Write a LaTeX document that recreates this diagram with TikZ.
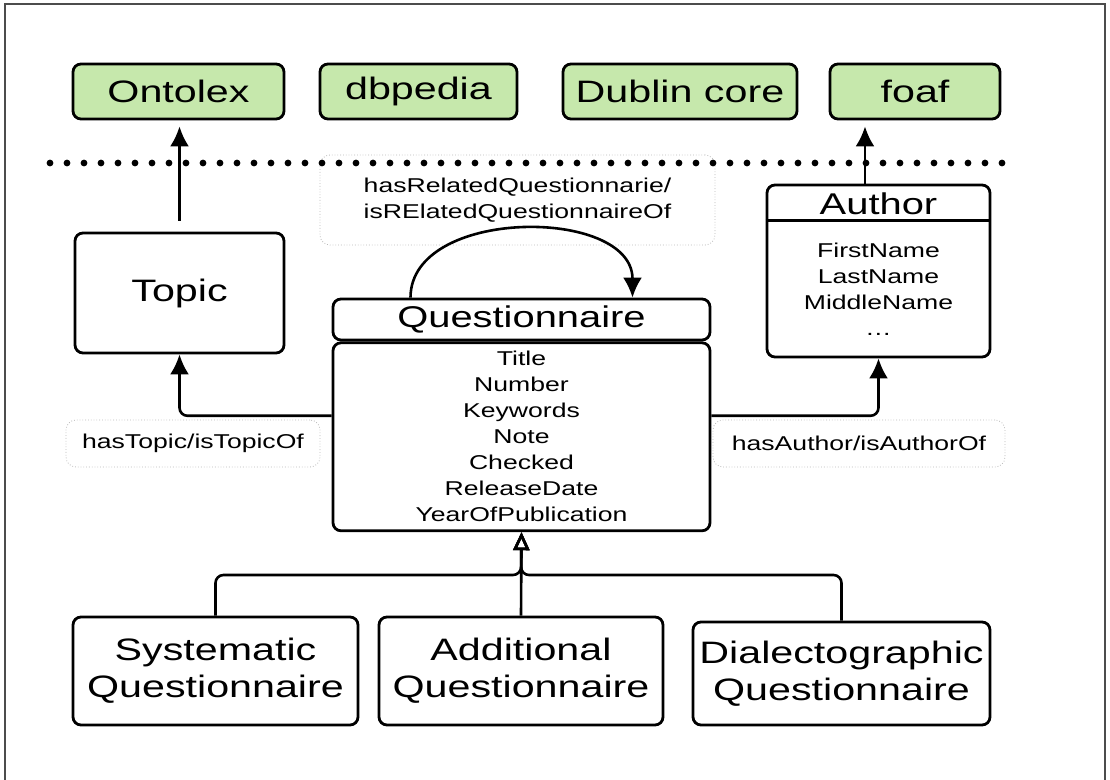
\documentclass[tikz,border=0pt]{standalone}
\usepackage{fontspec}
\setmainfont{Liberation Sans}[FakeStretch=1.33]
\usetikzlibrary{positioning,arrows.meta}
\definecolor{vocabgreen}{RGB}{198,232,172}
\definecolor{labelgray}{RGB}{185,185,185}
\tikzset{block/.style={draw,line width=1.4pt,rounded corners=4pt,align=center,inner sep=0pt},
         vocab/.style={block,fill=vocabgreen,minimum height=27.5pt,font=\fontsize{15.5}{19}\selectfont},
         relname/.style={draw=labelgray,densely dotted,rounded corners=5pt,align=center,inner sep=0pt,font=\fontsize{10}{13}\selectfont},
         line/.style={-{Latex[length=10pt,width=9.5pt]},line width=1.3pt},
         inherit/.style={-{Triangle[open,length=9pt,width=8pt]},line width=1.3pt,rounded corners=4pt}
}

\begin{document}
\begin{tikzpicture}[x=0.5pt,y=-0.5pt]
  \useasboundingbox (0,0) rectangle (1110,780);
  \draw[gray!60!black,line width=0.6pt] (5,780) -- (5,4) -- (1105,4) -- (1105,780);

  % vocabularies
  \node[vocab,minimum width=105.5pt] (onto) at (178.5,91.5) {Ontolex};
  \node[vocab,minimum width=98.5pt] (dbp) at (418.5,91.5) {dbpedia};
  \node[vocab,minimum width=117pt] (dc) at (680,91.5) {Dublin core};
  \node[vocab,minimum width=85pt] (foaf) at (915,91.5) {foaf};

  \coordinate (sepl) at (50,163);
  \coordinate (sepr) at (1010,163);

  % relation names
  \node[relname,minimum width=197.5pt,minimum height=45pt] (rellabel) at (517.5,200) {hasRelatedQuestionnarie/\\isRElatedQuestionnaireOf};
  \node[relname,minimum width=127pt,minimum height=23.5pt] (topiclabel) at (193,443.5) {hasTopic/isTopicOf};
  \node[relname,minimum width=146pt,minimum height=23.5pt] (authorlabel) at (859,443.5) {hasAuthor/isAuthorOf};

  \draw[line width=3.4pt,dash pattern=on 0pt off 8.5pt,line cap=round] (sepl) -- (sepr);

  % classes
  \node[block,minimum width=104.5pt,minimum height=60pt,font=\fontsize{15.5}{19}\selectfont] (topic) at (179.5,293) {Topic};
  \node[block,minimum width=188.5pt,minimum height=20.5pt,font=\fontsize{15}{18}\selectfont] (quest) at (521.5,319.5) {Questionnaire};
  \node[block,minimum width=188.5pt,minimum height=94pt,below=0pt of quest,font=\fontsize{10}{13}\selectfont] (questattr) {Title\\Number\\Keywords\\Note\\Checked\\ReleaseDate\\YearOfPublication};

  \node[block,minimum width=111.5pt,minimum height=86pt] (author) at (878.5,271) {};
  \node[font=\fontsize{15}{18}\selectfont] (authorname) at (878.5,203.5) {Author};
  \node[font=\fontsize{10}{13}\selectfont,align=center] (authorattr) at (878.5,289.5) {FirstName\\LastName\\MiddleName\\\dots};
  \draw[line width=1.4pt] ([yshift=-18.5pt]author.north west) -- ([yshift=-18.5pt]author.north east);

  \node[block,minimum width=142.5pt,minimum height=54pt,font=\fontsize{15.5}{18.5}\selectfont] (sys) at (215.5,671) {Systematic\\Questionnaire};
  \node[block,minimum width=142pt,minimum height=54pt,font=\fontsize{15.5}{18.5}\selectfont] (add) at (521,671) {Additional\\Questionnaire};
  \node[block,minimum width=148.5pt,minimum height=51.5pt,font=\fontsize{15.5}{18.5}\selectfont] (dia) at (841.5,673.5) {Dialectographic\\Questionnaire};

  % links
  \draw[line,shorten <=5.5pt,shorten >=3pt] (topic.north) -- (topic.north |- onto.south);
  \draw[line,shorten >=3pt] ([xshift=-6.75pt]author.north) -- ([xshift=-6.75pt]author.north |- foaf.south);
  \draw[line] ([xshift=-55.5pt]quest.north) to[out=90,in=90,looseness=1.05] ([xshift=55.5pt]quest.north);
  \draw[line,rounded corners=4pt] ([yshift=10.5pt]questattr.west) -| (topic.south);
  \draw[line,rounded corners=4pt] ([yshift=10.5pt]questattr.east) -| (author.south);

  \coordinate (split) at (521,575);
  \draw[inherit] (sys.north) |- (split) -- (questattr.south);
  \draw[inherit] (dia.north) |- (split) -- (questattr.south);
  \draw[inherit] (add.north) -- (questattr.south);
\end{tikzpicture}
\end{document}
